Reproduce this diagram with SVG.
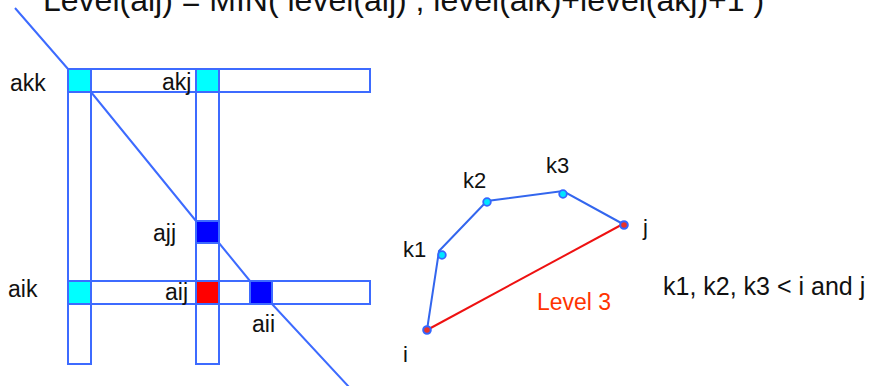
<svg xmlns="http://www.w3.org/2000/svg" width="883" height="386" viewBox="0 0 883 386">
<style>
text{font-family:"Liberation Sans",Arial,sans-serif;fill:#111}
.t{font-size:32px}
.lb{font-size:23px}
.kl{font-size:22px}
.bar{fill:none;stroke:#3d6bff;stroke-width:2}
.cy{fill:#00ffff;stroke:#3d6bff;stroke-width:2}
.bl{fill:#0000ff;stroke:#3d6bff;stroke-width:2}
.rd{fill:#ff0000;stroke:#3d6bff;stroke-width:2}
.diag{fill:none;stroke:#3d6bff;stroke-width:2}
.path{fill:none;stroke:#3366ee;stroke-width:2}
.dk{fill:#00e5ff;stroke:#3366ff;stroke-width:1.8}
.dr{fill:#e8332a;stroke:#3366ff;stroke-width:2}
</style>
<text class="t" x="43" y="11">Level(aij) = MIN( level(aij) , level(aik)+level(akj)+1 )</text>
<g id="connectors">
<polyline class="diag" points="15,8 68,69 91,92 196,221 219,243 250,281 272,304 349,387"/>
<polyline class="path" points="427,330 439,251 487,201 563,191 623,224"/>
<line x1="427" y1="330" x2="623" y2="224" stroke="#ee1111" stroke-width="2"/>
</g>
<g id="bars">
<rect class="bar" x="68" y="69" width="302" height="23"/>
<rect class="bar" x="68" y="281" width="302" height="23"/>
<rect class="bar" x="68" y="69" width="23" height="295"/>
<rect class="bar" x="196" y="69" width="23" height="295"/>
</g>
<g id="akk"><rect class="cy" x="68" y="69" width="23" height="23"/><text class="lb" x="10" y="91">akk</text></g>
<g id="akj"><rect class="cy" x="196" y="69" width="23" height="23"/><text class="lb" x="162" y="90">akj</text></g>
<g id="ajj"><rect class="bl" x="196" y="221" width="23" height="22"/><text class="lb" x="153" y="241">ajj</text></g>
<g id="aik"><rect class="cy" x="68" y="281" width="23" height="23"/><text class="lb" x="8" y="297">aik</text></g>
<g id="aij"><rect class="rd" x="196" y="281" width="23" height="23"/><text class="lb" x="165" y="300">aij</text></g>
<g id="aii"><rect class="bl" x="250" y="281" width="22" height="23"/><text class="lb" x="252" y="332">aii</text></g>
<g id="node-i"><circle class="dr" cx="427" cy="330" r="3.8"/><text class="kl" x="403" y="362">i</text></g>
<g id="node-k1"><circle class="dk" cx="442" cy="255" r="3.8"/><text class="kl" x="403" y="257">k1</text></g>
<g id="node-k2"><circle class="dk" cx="487" cy="202" r="3.8"/><text class="kl" x="463" y="188">k2</text></g>
<g id="node-k3"><circle class="dk" cx="563" cy="194" r="3.8"/><text class="kl" x="546" y="173">k3</text></g>
<g id="node-j"><circle class="dr" cx="624" cy="225" r="3.8"/><text class="kl" x="643" y="235">j</text></g>
<text x="537" y="310" style="font-size:23px;fill:#ff3300">Level 3</text>
<text x="663" y="295" style="font-size:25px">k1, k2, k3 &lt; i and j</text>
</svg>
